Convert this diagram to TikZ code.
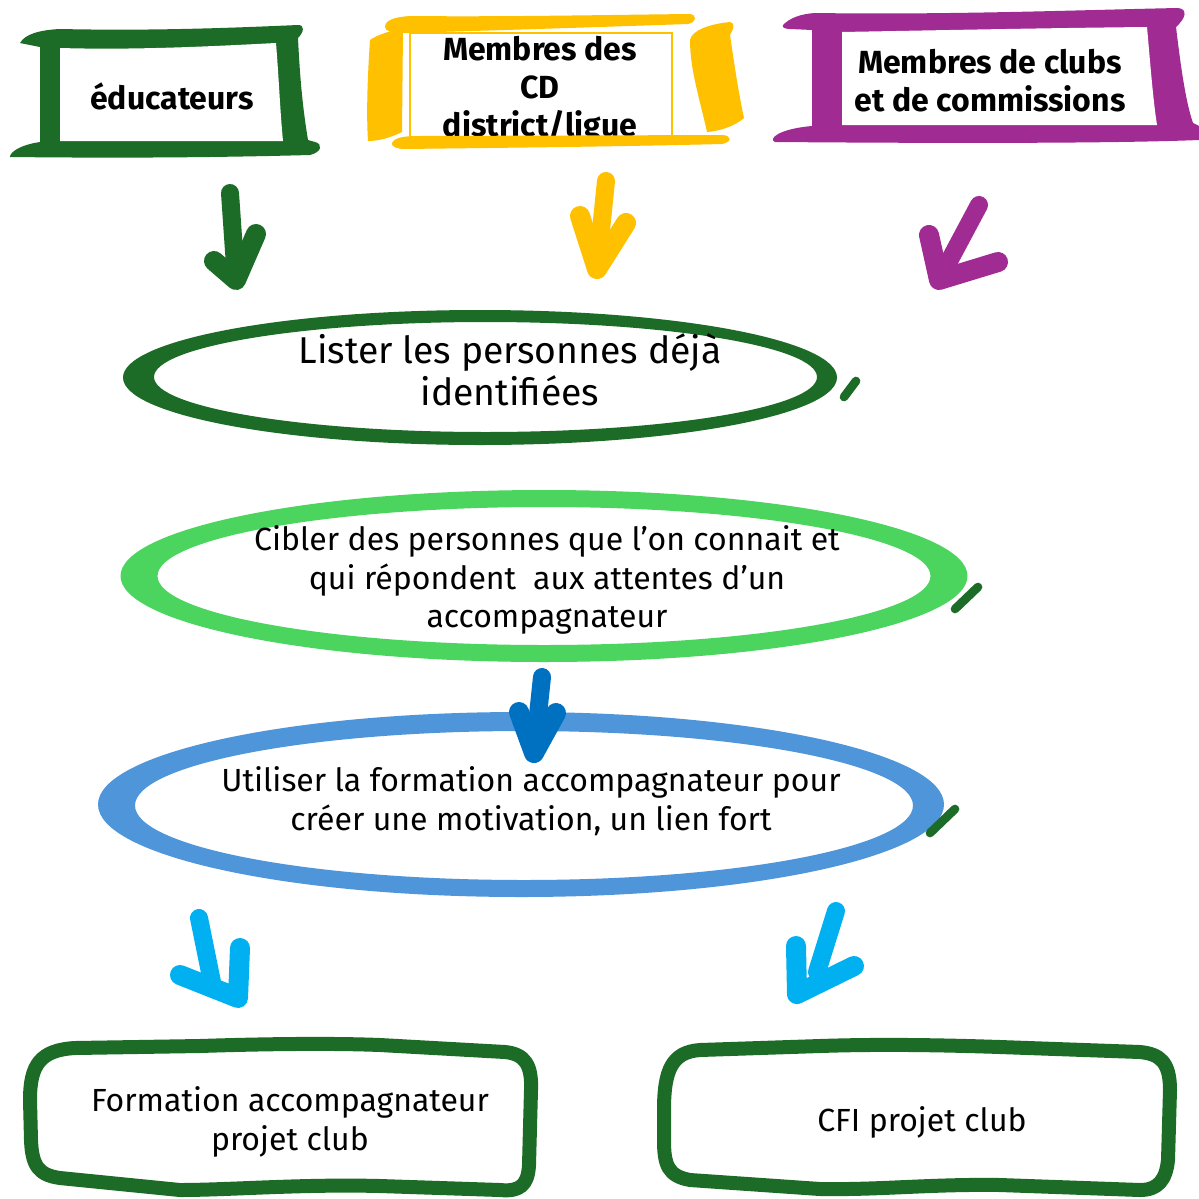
\documentclass[tikz,border=0pt]{standalone}
\usepackage{fontspec}
\setmainfont{Fira Sans}
\definecolor{dkgreen}{RGB}{28,107,38}
\definecolor{ylw}{RGB}{255,192,0}
\definecolor{purp}{RGB}{160,43,147}
\definecolor{ltgreen}{RGB}{75,213,94}
\definecolor{ringblue}{RGB}{79,149,217}
\definecolor{arrblue}{RGB}{0,112,192}
\definecolor{skyblue}{RGB}{0,176,240}
\tikzset{
  toptext/.style={align=center, inner sep=0pt, font=\fontsize{24}{28.5}\selectfont\bfseries},
  eltext/.style={align=center, inner sep=0pt, font=\fontsize{24}{29}\selectfont},
  brushshaft/.style={line width=13.5pt, line cap=round, line join=round},
  brushhead/.style={line width=15pt, line cap=round, line join=round},
  tick/.style={line width=6.5pt, line cap=round, dkgreen},
  wobblybox/.style={draw=dkgreen, line width=10.5pt, line join=round}
}
\begin{document}
\begin{tikzpicture}[x=0.75pt,y=-0.75pt]
\fill[white] (0,0) rectangle (1199,1199);
\useasboundingbox (0,0) rectangle (1199,1199);

% ---------- top box: educateurs ----------
\fill[dkgreen] (20,43) .. controls (25,34) and (40,30) .. (60,29)
  .. controls (150,31) and (230,28) .. (298,25)
  .. controls (305,25) and (304,32) .. (298,38)
  .. controls (300,80) and (303,110) .. (308,140) -- (315,142)
  .. controls (323,144) and (322,152) .. (310,155)
  .. controls (200,158) and (100,158) .. (10,157)
  .. controls (10,152) and (20,145) .. (40,142) -- (40,47) -- cycle;
\fill[white] (60,48) .. controls (130,50) and (200,47) .. (276,43)
  .. controls (279,80) and (280,110) .. (283,141) -- (60,141) -- cycle;
\node[toptext] (edu) at (172,96) {éducateurs};

% ---------- top box: CD ----------
\draw[ylw, line width=1.2pt] (410,33) rectangle (672,137);
\node[toptext] (cd) at (540,89.5) {Membres des\\CD\\district/ligue};
\fill[ylw] (385,27) .. controls (385,20) and (395,17) .. (410,16)
  .. controls (500,17) and (600,15) .. (690,14)
  .. controls (697,15) and (697,22) .. (688,24)
  .. controls (600,27) and (480,31) .. (400,33)
  .. controls (392,33) and (385,31) .. (385,27) -- cycle;
\fill[ylw] (370,40) .. controls (380,33) and (395,30) .. (403,29) -- (402,132)
  .. controls (390,138) and (378,141) .. (368,141)
  .. controls (366,110) and (368,70) .. (370,40) -- cycle;
\fill[ylw] (690,40) .. controls (692,30) and (710,24) .. (730,22)
  .. controls (736,23) and (733,30) .. (730,35)
  .. controls (735,70) and (740,100) .. (744,118)
  .. controls (735,126) and (720,131) .. (707,132)
  .. controls (700,100) and (690,70) .. (690,40) -- cycle;
\fill[ylw] (392,143) .. controls (395,137) and (405,136) .. (420,136) -- (723,135)
  .. controls (732,136) and (732,142) .. (722,144)
  .. controls (600,147) and (480,148) .. (405,149)
  .. controls (396,149) and (391,146) .. (392,143) -- cycle;

% ---------- top box: clubs ----------
\fill[purp] (783,25) .. controls (790,18) and (800,14) .. (815,13)
  .. controls (950,15) and (1080,10) .. (1178,8)
  .. controls (1188,9) and (1186,18) .. (1176,27)
  .. controls (1180,60) and (1185,100) .. (1193,123) -- (1199,126) -- (1199,140)
  .. controls (1100,144) and (900,143) .. (775,142)
  .. controls (768,139) and (778,129) .. (812,126) -- (812,30) -- (790,29)
  .. controls (784,29) and (782,27) .. (783,25) -- cycle;
\fill[white] (842,32) .. controls (950,30) and (1050,28) .. (1147,27)
  .. controls (1150,60) and (1153,100) .. (1157,125) -- (842,125) -- cycle;
\node[toptext] (clubs) at (990,81) {Membres de clubs\\et de commissions};

% ---------- ellipses ----------
\fill[dkgreen, even odd rule] (480,377.5) ellipse [x radius=357, y radius=67.5]
  (485.5,377) ellipse [x radius=331.5, y radius=55];
\draw[tick] (856,381) -- (844,397);
\node[eltext, font=\fontsize{28}{31.5}\selectfont] (lister) at (510,370) {Lister les personnes déjà\\identifiées};

\fill[ltgreen, even odd rule] (544,576) ellipse [x radius=423.5, y radius=86]
  (544,576) ellipse [x radius=386.5, y radius=69];
\draw[tick] (978,587) -- (955,609);
\node[eltext] (cibler) at (547,580) {Cibler des personnes que l’on connait et\\qui répondent\ \ aux attentes d’un\\accompagnateur};

\fill[ringblue, even odd rule] (521,804.5) ellipse [x radius=423, y radius=92.5]
  (524,805.5) ellipse [x radius=389, y radius=74.5];
\draw[tick] (955,809) -- (930,833);
\node[eltext] (utiliser) at (531,801) {Utiliser la formation accompagnateur pour\\créer une motivation, un lien fort};

% ---------- bottom boxes ----------
\draw[wobblybox] (30,1100) .. controls (30,1065) and (40,1050) .. (75,1048) -- (200,1046)
  .. controls (260,1044) and (330,1043) .. (380,1045) -- (505,1052)
  .. controls (525,1054) and (532,1065) .. (531,1090) -- (529,1165)
  .. controls (528,1185) and (520,1192) .. (500,1190) -- (380,1186)
  .. controls (300,1184) and (230,1190) .. (180,1190) -- (60,1178)
  .. controls (38,1175) and (32,1165) .. (31,1140) -- cycle;
\node[eltext] (formation) at (290,1122) {Formation accompagnateur\\projet club};

\draw[wobblybox] (664,1110) .. controls (664,1070) and (672,1052) .. (700,1050) -- (820,1046)
  .. controls (880,1044) and (940,1045) .. (1000,1047) -- (1140,1052)
  .. controls (1160,1054) and (1170,1062) .. (1170,1090) -- (1168,1160)
  .. controls (1166,1180) and (1158,1190) .. (1140,1190) -- (1000,1185)
  .. controls (930,1184) and (880,1190) .. (820,1189) -- (690,1180)
  .. controls (668,1176) and (664,1165) .. (664,1140) -- cycle;
\node[eltext] (cfi) at (922,1122) {CFI projet club};

% ---------- brush arrows ----------
% green
\coordinate (g1) at (230,193); \coordinate (g2) at (236,280);
\coordinate (gl) at (214,261); \coordinate (gr) at (256,234);
\draw[brushshaft, dkgreen] (g1) -- (g2);
\draw[brushhead, dkgreen] (gl) -- (g2) -- (gr);
% yellow
\coordinate (y1) at (606,181); \coordinate (y2) at (597,269);
\coordinate (yl) at (580,216); \coordinate (yr) at (626,223);
\draw[brushshaft, ylw] (y1) -- (y2);
\draw[brushhead, ylw] (yl) -- (y2) -- (yr);
% purple
\coordinate (p1) at (979,205); \coordinate (p2) at (939,280);
\coordinate (pl) at (929,235); \coordinate (pr) at (998,262);
\draw[brushshaft, purp] (p1) -- (p2);
\draw[brushhead, purp] (pl) -- (p2) -- (pr);
% blue (between ellipses)
\coordinate (b1) at (542,677); \coordinate (b2) at (534,753);
\coordinate (bl) at (519,712); \coordinate (br) at (556,713);
\draw[brushshaft, arrblue] (b1) -- (b2);
\draw[brushhead, arrblue] (bl) -- (b2) -- (br);
% sky blue left
\coordinate (s1) at (199,918); \coordinate (s2) at (238,998);
\coordinate (sm) at (212,982);
\coordinate (sl) at (180,975); \coordinate (sr) at (240,948);
\draw[brushshaft, skyblue] (s1) -- (sm);
\draw[brushhead, skyblue] (sl) -- (s2) -- (sr);
% sky blue right
\coordinate (t1) at (836,911); \coordinate (t2) at (797,994);
\coordinate (tm) at (817,972);
\coordinate (tl) at (796,946); \coordinate (tr) at (854,966);
\draw[brushshaft, skyblue] (t1) -- (tm);
\draw[brushhead, skyblue] (tl) -- (t2) -- (tr);
\end{tikzpicture}
\end{document}
